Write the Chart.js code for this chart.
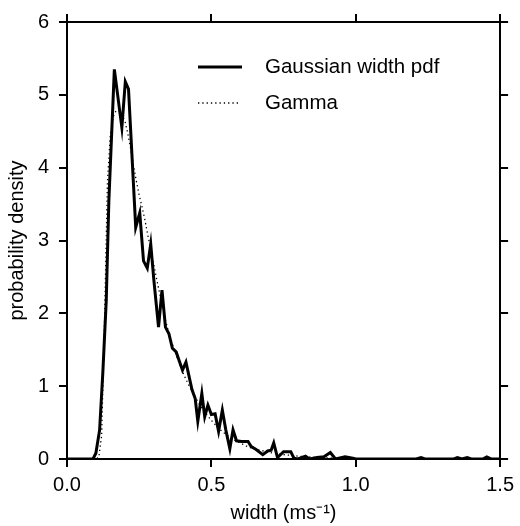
<!DOCTYPE html>
<html>
<head>
<meta charset="utf-8">
<style>
  html, body { margin: 0; padding: 0; background: #fff; }
  #wrap { width: 520px; height: 526px; }
</style>
</head>
<body>
<div id="wrap">
    <canvas id="myChart" width="520" height="526"></canvas>
</div>

<script src="https://cdn.jsdelivr.net/npm/chart.js@4.4.0/dist/chart.umd.min.js"></script>

<script>
    // histogram of fitted gaussian widths
    var widthX = [0, 0.09, 0.10, 0.113, 0.124, 0.136, 0.145, 0.164, 0.19, 0.202,
        0.213, 0.238, 0.252, 0.265, 0.278, 0.29, 0.301, 0.317, 0.329, 0.341,
        0.353, 0.365, 0.378, 0.4, 0.412, 0.433, 0.444, 0.453, 0.467, 0.477,
        0.488, 0.5, 0.513, 0.525, 0.538, 0.55, 0.564, 0.575, 0.587, 0.604,
        0.627, 0.638, 0.655, 0.678, 0.695, 0.707, 0.716, 0.729, 0.75, 0.775,
        0.786, 0.8, 0.826, 0.84, 0.866, 0.89, 0.912, 0.93, 0.963, 0.99,
        1.0, 1.21, 1.226, 1.24, 1.34, 1.352, 1.368, 1.386, 1.4, 1.44,
        1.454, 1.47, 1.5];
    var widthPdf = [0, 0, 0.08, 0.4, 1.18, 2.18, 3.55, 5.35, 4.55, 5.18,
        5.08, 3.18, 3.38, 2.72, 2.62, 2.95, 2.45, 1.81, 2.32, 1.81,
        1.72, 1.52, 1.47, 1.22, 1.33, 0.95, 0.83, 0.52, 0.9, 0.58,
        0.74, 0.61, 0.62, 0.38, 0.67, 0.4, 0.14, 0.4, 0.25, 0.24,
        0.24, 0.17, 0.13, 0.06, 0.11, 0.12, 0.22, 0.02, 0.1, 0.1,
        0.01, 0, 0.04, 0, 0.02, 0.03, 0.09, 0, 0.03, 0.01,
        0, 0, 0.02, 0, 0, 0.02, 0, 0.02, 0, 0,
        0.03, 0, 0];

    // gamma fit
    var gammaX = [0, 0.10, 0.11, 0.12, 0.13, 0.14, 0.15, 0.16, 0.17, 0.18, 0.19,
        0.20, 0.21, 0.22, 0.23, 0.24, 0.25, 0.26, 0.27, 0.28, 0.29,
        0.30, 0.31, 0.32, 0.33, 0.34, 0.35, 0.36, 0.37, 0.38, 0.39,
        0.40, 0.41, 0.42, 0.43, 0.44, 0.45, 0.46, 0.47, 0.48, 0.49,
        0.50, 0.52, 0.54, 0.56, 0.58, 0.60, 0.62, 0.64, 0.66, 0.68,
        0.70, 0.75, 0.80, 0.85, 0.90, 1.0, 1.1, 1.5];
    var gammaPdf = [0, 0, 0.02, 0.32, 1.9, 3.8, 4.45, 4.7, 4.78, 4.78, 4.72,
        4.65, 4.48, 4.27, 4.04, 3.82, 3.62, 3.46, 3.28, 3.07, 2.88,
        2.68, 2.48, 2.29, 2.1, 1.92, 1.77, 1.64, 1.52, 1.41, 1.3,
        1.2, 1.11, 1.03, 0.95, 0.88, 0.81, 0.74, 0.68, 0.63, 0.58,
        0.53, 0.44, 0.37, 0.31, 0.26, 0.22, 0.18, 0.15, 0.13, 0.11,
        0.09, 0.06, 0.04, 0.025, 0.015, 0.005, 0, 0];

    var seriesNames = ['Gaussian width pdf', 'Gamma'];

    var xTicks = [0, 0.5, 1.0, 1.5];
    var yTicks = [0, 1, 2, 3, 4, 5, 6];

    var FONT = 'Liberation Sans, Arial, Helvetica, sans-serif';

    function pairs(xs, ys) {
        return xs.map(function (x, i) { return { x: x, y: ys[i] }; });
    }

    // legend drawn inside the plot, top right
    var boxLegend = {
        id: 'boxLegend',
        afterDatasetsDraw: function (chart) {
            var ctx = chart.ctx;
            var x0 = chart.chartArea.left + 131;
            var y0 = chart.chartArea.top + 45;
            ctx.save();
            ctx.font = '20.5px ' + FONT;
            ctx.textBaseline = 'middle';
            ctx.fillStyle = '#000';
            chart.data.datasets.forEach(function (ds, i) {
                var y = y0 + i * 36;
                ctx.beginPath();
                ctx.lineWidth = ds.borderWidth;
                ctx.strokeStyle = ds.borderColor;
                ctx.setLineDash(ds.borderDash || []);
                ctx.moveTo(x0, y);
                ctx.lineTo(x0 + (i === 0 ? 44 : 40), y);
                ctx.stroke();
                ctx.setLineDash([]);
                ctx.fillText(ds.label, x0 + 67, y);
            });
            ctx.restore();
        }
    };

    function tickGrid() {
        return { drawOnChartArea: false, drawTicks: true, tickLength: 8, color: '#000', lineWidth: 2 };
    }

    var ctx = document.getElementById('myChart');

    new Chart(ctx, {
        type: 'line',
        data: {
            datasets: [{
                label: seriesNames[0],
                data: pairs(widthX, widthPdf),
                borderColor: '#000',
                borderWidth: 3,
                borderJoinStyle: 'miter',
                pointRadius: 0,
                tension: 0,
                fill: false
            }, {
                label: seriesNames[1],
                data: pairs(gammaX, gammaPdf),
                borderColor: '#000',
                borderWidth: 1.3,
                borderDash: [1.3, 3],
                pointRadius: 0,
                tension: 0,
                fill: false
            }]
        },
        options: {
            responsive: false,
            animation: false,
            layout: { padding: 0 },
            plugins: {
                legend: { display: false },
                tooltip: { enabled: false }
            },
            scales: {
                x: {
                    type: 'linear', position: 'bottom', min: 0, max: 1.5,
                    afterBuildTicks: function (s) { s.ticks = xTicks.map(function (v) { return { value: v }; }); },
                    afterFit: function (s) { s.height = 67; },
                    ticks: {
                        padding: 6, color: '#000', maxRotation: 0,
                        font: { family: FONT, size: 20 },
                        callback: function (v) { return v.toFixed(1); }
                    },
                    grid: tickGrid(),
                    border: { display: true, color: '#000', width: 2 },
                    title: {
                        display: true, text: 'width (ms\u207B\u00B9)', color: '#000',
                        font: { family: FONT, size: 20 }, padding: { top: 0, bottom: 1 }
                    }
                },
                x2: {
                    type: 'linear', position: 'top', min: 0, max: 1.5,
                    afterBuildTicks: function (s) { s.ticks = xTicks.map(function (v) { return { value: v }; }); },
                    afterFit: function (s) { s.height = 21; },
                    ticks: { display: false },
                    grid: tickGrid(),
                    border: { display: true, color: '#000', width: 2 }
                },
                y: {
                    type: 'linear', position: 'left', min: 0, max: 6,
                    afterBuildTicks: function (s) { s.ticks = yTicks.map(function (v) { return { value: v }; }); },
                    afterFit: function (s) { s.width = 67; },
                    ticks: {
                        padding: 10, color: '#000',
                        font: { family: FONT, size: 20 }
                    },
                    grid: tickGrid(),
                    border: { display: true, color: '#000', width: 2 },
                    title: {
                        display: true, text: 'probability density', color: '#000',
                        font: { family: FONT, size: 20 }, padding: { top: 5, bottom: 0 }
                    }
                },
                y2: {
                    type: 'linear', position: 'right', min: 0, max: 6,
                    afterBuildTicks: function (s) { s.ticks = yTicks.map(function (v) { return { value: v }; }); },
                    afterFit: function (s) { s.width = 15; },
                    ticks: { display: false },
                    grid: tickGrid(),
                    border: { display: true, color: '#000', width: 2 }
                }
            }
        },
        plugins: [boxLegend]
    });
</script>
</body>
</html>
